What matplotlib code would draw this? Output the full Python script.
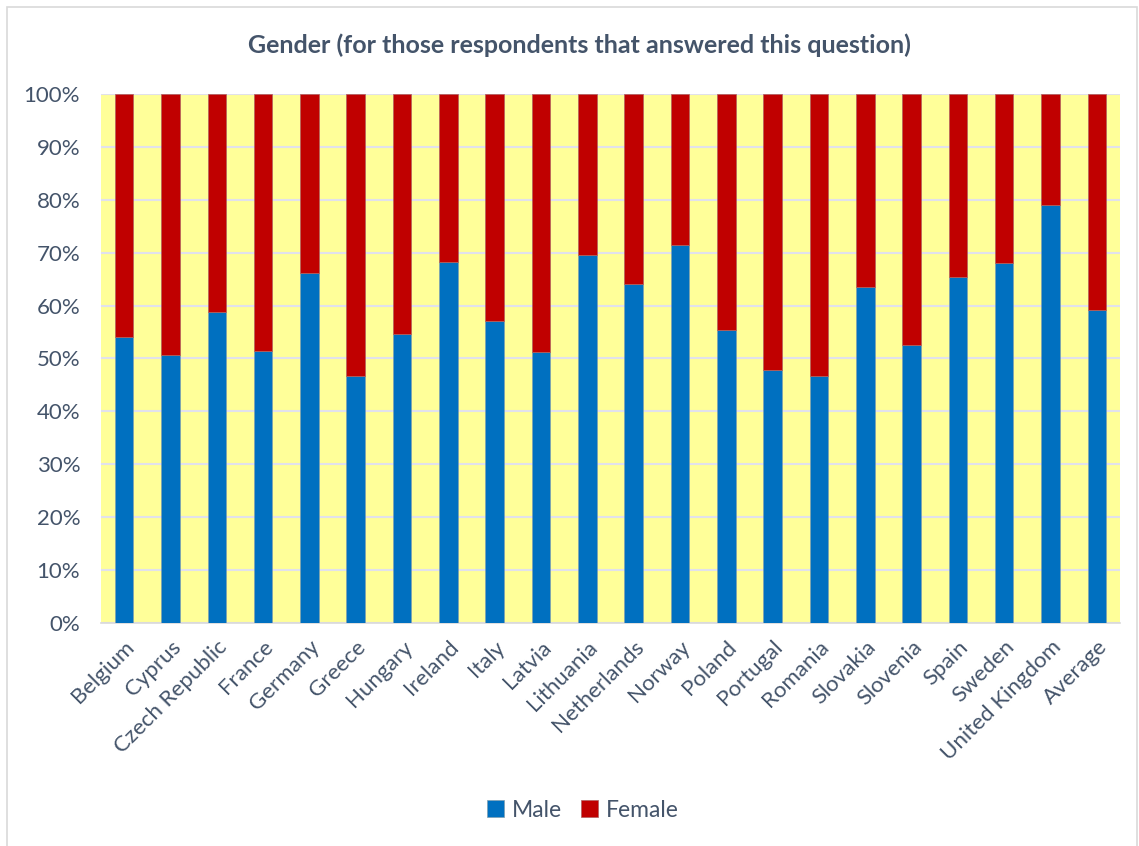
import numpy as np
import matplotlib
matplotlib.use("Agg")
import matplotlib.pyplot as plt
from matplotlib.patches import Rectangle

# Gender share per country
countries = ["Belgium", "Cyprus", "Czech Republic", "France", "Germany", "Greece",
             "Hungary", "Ireland", "Italy", "Latvia", "Lithuania", "Netherlands",
             "Norway", "Poland", "Portugal", "Romania", "Slovakia", "Slovenia",
             "Spain", "Sweden", "United Kingdom", "Average"]
male = [54.0, 50.6, 58.7, 51.5, 66.1, 46.6, 54.6, 68.2, 57.0, 51.2, 69.6, 64.1,
        71.5, 55.4, 47.8, 46.6, 63.6, 52.6, 65.5, 68.0, 79.1, 59.2]
female = [100 - m for m in male]

text_col = "#44546A"
plt.rcParams['font.family'] = ['Lato', 'DejaVu Sans']

W, H = 1139, 846
fig = plt.figure(figsize=(W / 100, H / 100), dpi=100)

# light frame round the chart
fig.patches.append(Rectangle((7 / W, -0.01), (W - 9) / W, (H - 7) / H + 0.01,
                             transform=fig.transFigure, fill=False,
                             edgecolor="#D9D9D9", linewidth=1.2))

ax = fig.add_axes([101 / W, (H - 623) / H, 1019 / W, (623 - 94) / H])
ax.set_facecolor("#FFFF99")

x = np.arange(len(countries))
ax.bar(x, male, width=0.4, color="#0070C0", edgecolor="#7f9fb0", linewidth=0.5,
       label="Male", zorder=3)
ax.bar(x, female, width=0.4, bottom=male, color="#C00000", edgecolor="#b06060",
       linewidth=0.5, label="Female", zorder=3)

ax.set_xlim(-0.5, len(countries) - 0.5)
ax.set_ylim(0, 100)
ax.set_yticks(np.arange(0, 101, 10))
ax.set_yticklabels([f"{v}%" for v in range(0, 101, 10)])
ax.yaxis.grid(True, color="#E1E1EC", linewidth=1.5, zorder=1)
ax.set_axisbelow(True)

ax.set_xticks(x)
ax.set_xticklabels(countries, rotation=45, ha="right", rotation_mode="anchor")
ax.tick_params(axis="both", length=0, colors=text_col, labelsize=16)
ax.tick_params(axis="y", pad=15)
ax.tick_params(axis="x", pad=10)

for s in ["top", "left", "right"]:
    ax.spines[s].set_visible(False)
ax.spines["bottom"].set_color("#D9D9D9")
ax.spines["bottom"].set_linewidth(1.2)

fig.text(579 / W, 1 - 45 / H, "Gender (for those respondents that answered this question)",
         ha="center", va="center", fontsize=18, fontweight="bold", color=text_col)

fig.legend(loc="center", bbox_to_anchor=(583 / W, 1 - 810 / H), ncol=2, frameon=False,
           fontsize=16.5, labelcolor=text_col, handlelength=0.75, handleheight=0.75,
           handletextpad=0.35, columnspacing=0.8)

fig.savefig("out.png", dpi=100)
